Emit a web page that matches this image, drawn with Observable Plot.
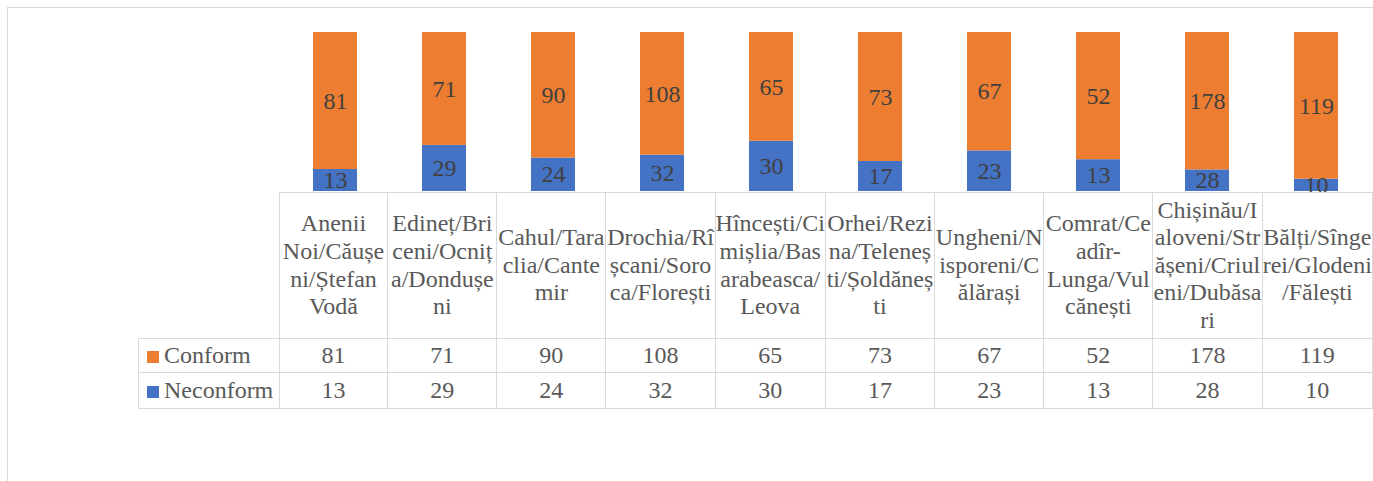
<!DOCTYPE html>
<html>
<head>
<meta charset="utf-8">
<script src="https://cdn.jsdelivr.net/npm/d3@7"></script>
<script src="https://cdn.jsdelivr.net/npm/@observablehq/plot@0.6"></script>
<style>
  html, body { margin: 0; padding: 0; background: #fff; }
  #wrap { position: relative; width: 1373px; height: 481px; overflow: hidden; }
  #frame { position: absolute; left: 7px; top: 7px; width: 1400px; height: 500px;
           border-top: 1px solid #d9d9d9; border-left: 1px solid #d9d9d9; }
  #chart { position: absolute; left: 0; top: 0; }
  #tbl { position: absolute; left: 138px; top: 192px; border-collapse: collapse; table-layout: fixed;
         font-family: "Liberation Serif", "Times New Roman", Tinos, "DejaVu Serif", serif; font-size: 24px; color: #595959; }
  #tbl td { border: 1px solid #d9d9d9; padding: 0; text-align: center; vertical-align: middle;
            overflow: visible; white-space: pre; }
  #tbl td.corner { border-top: none; border-left: none; }
  #tbl td.hdr { line-height: 27.6px; }
  #tbl td.leg { text-align: left; padding-left: 8px; }
  #tbl .sw { display: inline-block; width: 12px; height: 12px; margin-right: 5px; vertical-align: 0px; }
  #tbl tr.r1 td { height: 33px; line-height: 33px; }
  #tbl tr.r2 td { height: 35px; line-height: 35px; }
  #tbl tr.r0 td { height: 145px; }
</style>
</head>
<body>
<div id="wrap">
  <div id="frame"></div>
  <div id="chart"></div>
  <table id="tbl"></table>
</div>
<script>
const categories = [
  "Anenii Noi/Căușeni/Ștefan Vodă",
  "Edineț/Briceni/Ocnița/Dondușeni",
  "Cahul/Taraclia/Cantemir",
  "Drochia/Rîșcani/Soroca/Florești",
  "Hîncești/Cimișlia/Basarabeasca/Leova",
  "Orhei/Rezina/Telenești/Șoldănești",
  "Ungheni/Nisporeni/Călărași",
  "Comrat/Ceadîr-Lunga/Vulcănești",
  "Chișinău/Ialoveni/Strășeni/Criuleni/Dubăsari",
  "Bălți/Sîngerei/Glodeni/Fălești"
];
const headerLabels = [
  ["Anenii", "Noi/Căușe", "ni/Ștefan", "Vodă"],
  ["Edineț/Bri", "ceni/Ocniț", "a/Dondușe", "ni"],
  ["Cahul/Tara", "clia/Cante", "mir"],
  ["Drochia/Rî", "șcani/Soro", "ca/Florești"],
  ["Hîncești/Ci", "mișlia/Bas", "arabeasca/", "Leova"],
  ["Orhei/Rezi", "na/Teleneș", "ti/Șoldăneș", "ti"],
  ["Ungheni/N", "isporeni/C", "ălărași"],
  ["Comrat/Ce", "adîr-", "Lunga/Vul", "cănești"],
  ["Chișinău/I", "aloveni/Str", "ășeni/Criul", "eni/Dubăsa", "ri"],
  ["Bălți/Sînge", "rei/Glodeni", "/Fălești"]
];
const seriesNames = ["Conform", "Neconform"];
const seriesColors = ["#ED7D31", "#4472C4"];
const conform = [81, 71, 90, 108, 65, 73, 67, 52, 178, 119];
const neconform = [13, 29, 24, 32, 30, 17, 23, 13, 28, 10];

// tidy table: Neconform first so it stacks at the bottom
const data = [];
categories.forEach((c, i) => {
  data.push({category: c, series: "Neconform", value: neconform[i]});
  data.push({category: c, series: "Conform", value: conform[i]});
});

const serif = "'Liberation Serif', 'Times New Roman', Tinos, 'DejaVu Serif', serif";
const chart = Plot.plot({
  width: 1373,
  height: 192,
  marginTop: 32,
  marginBottom: 1,
  marginLeft: 279,
  marginRight: 1,
  x: {domain: categories, axis: null, paddingInner: 0.6, paddingOuter: 0.3},
  y: {axis: null, domain: [0, 1]},
  color: {domain: seriesNames, range: seriesColors},
  style: {fontFamily: serif, background: "transparent"},
  marks: [
    Plot.barY(data, Plot.stackY({offset: "normalize", x: "category", y: "value", fill: "series"})),
    Plot.text(data, Plot.stackY({offset: "normalize", x: "category", y: "value",
      text: d => String(d.value), fill: "#404040", fontSize: 24, fontFamily: serif}))
  ]
});
document.getElementById("chart").appendChild(chart);

// data table below the chart
const tbl = document.getElementById("tbl");
const cg = document.createElement("colgroup");
const c0 = document.createElement("col"); c0.style.width = "141px"; cg.appendChild(c0);
categories.forEach(() => { const c = document.createElement("col"); c.style.width = "109.3px"; cg.appendChild(c); });
tbl.appendChild(cg);

const tr0 = document.createElement("tr"); tr0.className = "r0";
const corner = document.createElement("td"); corner.className = "corner"; tr0.appendChild(corner);
headerLabels.forEach(lines => {
  const td = document.createElement("td"); td.className = "hdr";
  td.textContent = lines.join("\n");
  tr0.appendChild(td);
});
tbl.appendChild(tr0);

[[seriesNames[0], seriesColors[0], conform, "r1"], [seriesNames[1], seriesColors[1], neconform, "r2"]].forEach(([name, color, vals, cls]) => {
  const tr = document.createElement("tr"); tr.className = cls;
  const td = document.createElement("td"); td.className = "leg";
  const sw = document.createElement("span"); sw.className = "sw"; sw.style.background = color;
  td.appendChild(sw); td.appendChild(document.createTextNode(name));
  tr.appendChild(td);
  vals.forEach(v => { const c = document.createElement("td"); c.textContent = String(v); tr.appendChild(c); });
  tbl.appendChild(tr);
});
</script>
</body>
</html>
